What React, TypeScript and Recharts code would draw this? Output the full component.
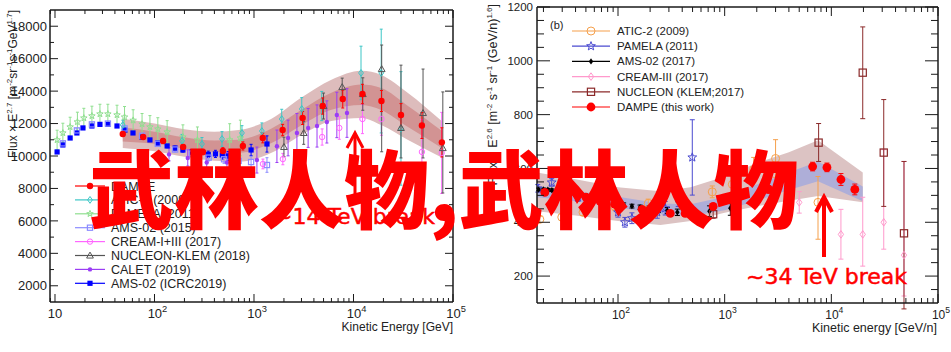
import React from "react";
import { ComposedChart, Scatter, Area, XAxis, YAxis, ErrorBar } from "recharts";

// ---------------- left panel: flux x E^2.7 ----------------
const bandAE = [48, 100, 200, 400, 700, 1500, 3000, 6000, 12000, 19000, 35000, 77000];
const bandAOuterHi = [12300, 12000, 11650, 11500, 11600, 12300, 13600, 14700, 15250, 15000, 13900, 12150];
const bandAInnerHi = [11750, 11500, 11150, 10950, 11000, 11700, 12850, 13900, 14400, 14190, 13100, 11550];
const bandAInnerLo = [10900, 10750, 10450, 10250, 10200, 10800, 11900, 12850, 13150, 12840, 11800, 10500];
const bandAOuterLo = [10500, 10300, 9950, 9700, 9650, 10200, 11300, 12150, 12350, 11910, 11000, 9900];

const icrcE = [10.5, 12, 14.2, 16.6, 19.1, 23.5, 28.3, 34.1, 42, 50.5, 60.8, 74.8, 90, 108, 134, 161, 193, 238, 347, 410, 480, 550, 935, 1350];
const icrcFlux = [10250, 10680, 11110, 11420, 11730, 11850, 11950, 11950, 11850, 11600, 11420, 11170, 10990, 10800, 10620, 10490, 10370, 10250, 10100, 10130, 10060, 10000, 10370, 10740];
const icrcErr = [80, 80, 80, 80, 80, 80, 80, 80, 80, 80, 90, 90, 100, 100, 110, 120, 130, 150, 200, 220, 250, 280, 350, 500];

const ams15E = [12, 16.6, 23.5, 34, 50, 75, 108, 161, 238, 350, 500, 700, 935, 1350];
const ams15Flux = [10780, 11580, 11950, 12000, 11700, 11250, 10750, 10400, 10150, 9900, 9800, 9700, 9630, 9445];
const ams15Err = [100, 100, 100, 100, 100, 100, 120, 140, 160, 200, 250, 300, 350, 450];

const pamelaAE = [10.5, 12, 14.2, 16.8, 19.5, 23.5, 28.3, 34, 42, 50, 61, 75, 90, 108, 134, 193, 270, 570, 730];
const pamelaAFlux = [10990, 11420, 11790, 12100, 12340, 12470, 12590, 12590, 12530, 12400, 12200, 11970, 11790, 11660, 11480, 11170, 10990, 10990, 11110];
const pamelaAErr = [600, 600, 600, 600, 600, 600, 600, 600, 600, 650, 650, 650, 700, 700, 700, 750, 800, 1000, 1100];

const aticAE = [48, 189, 300, 477, 757, 1200, 1900, 3020, 4800, 11900, 19000, 30000];
const aticAFlux = [11910, 10930, 10740, 11050, 11420, 11540, 12280, 12900, 13080, 15120, 15120, 11700];
const aticAErr: (number | number[])[] = [300, 400, 400, 450, 450, 500, 600, 700, 900, [1650, 1650], [3700, 2700], [3500, 3500]];

const caletE = [140, 216, 335, 535, 1070, 1700, 2200, 2700, 3500, 4300, 5400, 6800, 8600];
const caletFlux = [10100, 9880, 9600, 9600, 9750, 10600, 11110, 11420, 11730, 11850, 12100, 12530, 12650];
const caletErr = [400, 500, 500, 600, 800, 1000, 1100, 1200, 1200, 1300, 1300, 1400, 1500];

const creamAE = [1230, 1950, 4840, 7200, 12300, 19100, 48700, 77000];
const creamAFlux = [9510, 9810, 11170, 11730, 12280, 12280, 10250, 10190];
const creamAErr = [300, 350, 500, 700, 900, 1000, 2000, 2500];

const nucAE = [2000, 3160, 5000, 7700, 12400, 19200, 30000, 50000, 79000];
const nucAFlux = [10560, 11420, 13080, 14250, 13820, 15360, 11730, 12650, 10490];
const nucAErr: (number | number[])[] = [600, 700, 800, [680, 550], 1000, [5100, 1480], [1850, 3870], [2770, 2710], [2770, 3460]];

const dampeAE = [48, 77, 122, 194, 307, 487, 773, 1225, 1940, 3080, 4900, 7800, 12300, 19100, 30000, 48700, 77300];
const dampeAFlux = [11360, 11170, 10930, 10560, 10250, 10310, 10620, 11110, 11600, 12340, 13080, 13510, 13820, 13390, 12530, 11880, 10840];
const dampeAErr = [150, 150, 150, 150, 170, 200, 250, 300, 350, 400, 500, 550, 600, 650, 700, 800, 900];

const legendA = ["DAMPE", "ATIC-2 (2009)", "PAMELA (2011)", "AMS-02 (2015)", "CREAM-I+III (2017)", "NUCLEON-KLEM (2018)", "CALET (2019)", "AMS-02 (ICRC2019)"];

const xMajorA = [10, 100, 1000, 10000, 100000];
const yMajorA = [2000, 4000, 6000, 8000, 10000, 12000, 14000, 16000, 18000];
const yMinorA = [3000, 5000, 7000, 9000, 11000, 13000, 15000, 17000];

// ---------------- right panel: flux x E^2.6 ----------------
const bandBE = [17.4, 40, 100, 250, 480, 1000, 2000, 4000, 7500, 19700];
const bandBOuterHi = [585, 560, 530, 515, 530, 570, 620, 660, 705, 585];
const bandBOuterLo = [441, 425, 405, 390, 405, 435, 460, 480, 498, 474];
const bandBInnerHi = [533, 515, 495, 470, 467, 495, 540, 585, 626, 533];
const bandBInnerLo = [493, 478, 455, 430, 422, 445, 480, 520, 552, 478];

const aticBE = [18.5, 29.7, 47, 93, 192, 765, 1180, 1870, 3000, 7500];
const aticBFlux = [411, 419, 437, 459, 470, 513, 541, 596, 637, 474];
const aticBErr: (number | number[])[] = [12, 12, 12, 14, 16, 22, 28, 45, 70, [137, 96]];

const pamelaBE = [17.7, 23.9, 31, 42, 100, 116, 135, 180, 233, 277, 367, 497];
const pamelaBFlux = [526, 548, 511, 493, 437, 400, 415, 433, 437, 452, 489, 641];
const pamelaBErr = [14, 14, 14, 15, 18, 18, 20, 20, 22, 25, 30, 140];

const amsBE = [18, 20, 22, 24, 27, 30, 34, 39, 45, 52, 60, 68, 80, 95, 113, 135, 161, 195, 240, 290, 360, 505, 720, 1130];
const amsBFlux = [522, 522, 521, 519, 517, 514, 511, 507, 502, 497, 491, 485, 478, 471, 465, 460, 456, 451, 447, 444, 437, 437, 441, 452];
const amsBErr = [5, 5, 5, 5, 5, 5, 5, 5, 5, 5, 5, 6, 6, 6, 7, 7, 8, 9, 10, 11, 12, 15, 20, 26];

const creamBE = [5000, 12300, 19700, 31000, 48000];
const creamBFlux = [474, 355, 355, 400, 278];
const creamBErr: (number | number[])[] = [40, [92, 93], [118, 138], [100, 270], [152, 348]];

const nucBE = [780, 7600, 19700, 31000, 48000];
const nucBFlux = [430, 696, 956, 659, 359];
const nucBErr: (number | number[])[] = [15, [70, 71], [171, 170], [200, 197], [281, 267]];

const dampeBE = [20.6, 50, 68, 93, 168, 309, 426, 780, 2590, 6680, 9100, 12300, 16600];
const dampeBFlux = [511, 493, 478, 467, 448, 433, 433, 459, 522, 607, 604, 559, 522];
const dampeBErr = [6, 6, 6, 6, 7, 8, 8, 10, 14, 16, 16, 22, 20];

const legendB = ["ATIC-2 (2009)", "PAMELA (2011)", "AMS-02 (2017)", "CREAM-III (2017)", "NUCLEON (KLEM;2017)", "DAMPE (this work)"];

const xMajorB = [100, 1000, 10000, 100000];
const yMajorB = [200, 400, 600, 800, 1000, 1200];

// ---------------- helpers ----------------
const AX = "#1a1a1a";
const FONT = "'Liberation Sans', Arial, sans-serif";
const NARROW = "'Liberation Sans Narrow', 'Liberation Sans', Arial, sans-serif";

type Kind = "dot" | "ring" | "diamond" | "openDiamond" | "star" | "square" | "openSquare" | "triangle";

function starPoints(cx: number, cy: number, r: number) {
  const pts: string[] = [];
  for (let i = 0; i < 10; i++) {
    const rr = i % 2 === 0 ? r : r * 0.42;
    const a = -Math.PI / 2 + (i * Math.PI) / 5;
    pts.push(`${cx + rr * Math.cos(a)},${cy + rr * Math.sin(a)}`);
  }
  return pts.join(" ");
}

function Mark({ cx, cy, kind, color, s }: { cx: number; cy: number; kind: Kind; color: string; s: number }) {
  if (cx == null || cy == null || isNaN(cx) || isNaN(cy)) return <g />;
  switch (kind) {
    case "dot":
      return <circle cx={cx} cy={cy} r={s} fill={color} />;
    case "ring":
      return <circle cx={cx} cy={cy} r={s} fill="none" stroke={color} strokeWidth={1} />;
    case "diamond":
      return <polygon points={`${cx},${cy - s} ${cx + s * 0.7},${cy} ${cx},${cy + s} ${cx - s * 0.7},${cy}`} fill={color} />;
    case "openDiamond":
      return <polygon points={`${cx},${cy - s} ${cx + s * 0.7},${cy} ${cx},${cy + s} ${cx - s * 0.7},${cy}`} fill="none" stroke={color} strokeWidth={1} />;
    case "star":
      return <polygon points={starPoints(cx, cy, s)} fill="none" stroke={color} strokeWidth={1} />;
    case "square":
      return <rect x={cx - s} y={cy - s} width={2 * s} height={2 * s} fill={color} />;
    case "openSquare":
      return <rect x={cx - s} y={cy - s} width={2 * s} height={2 * s} fill="none" stroke={color} strokeWidth={1.2} />;
    case "triangle":
      return <polygon points={`${cx},${cy - s} ${cx + s},${cy + s * 0.75} ${cx - s},${cy + s * 0.75}`} fill="none" stroke={color} strokeWidth={1} />;
  }
  return <g />;
}

type Series = { name: string; E: number[]; F: number[]; err: (number | number[])[]; color: string; kind: Kind; s: number; cap: number };

const rows = (sr: Series) => sr.E.map((x, i) => ({ x, y: sr.F[i], err: sr.err[i] }));

const seriesA: Series[] = [
  { name: legendA[7], E: icrcE, F: icrcFlux, err: icrcErr, color: "#0000ff", kind: "square", s: 2.6, cap: 1.5 },
  { name: legendA[3], E: ams15E, F: ams15Flux, err: ams15Err, color: "#8c8cff", kind: "openSquare", s: 2.6, cap: 1.5 },
  { name: legendA[2], E: pamelaAE, F: pamelaAFlux, err: pamelaAErr, color: "#8fdf8f", kind: "star", s: 3.4, cap: 1.5 },
  { name: legendA[1], E: aticAE, F: aticAFlux, err: aticAErr, color: "#3cc6c6", kind: "openDiamond", s: 3.4, cap: 1.5 },
  { name: legendA[6], E: caletE, F: caletFlux, err: caletErr, color: "#9a3cf5", kind: "dot", s: 2.2, cap: 1.5 },
  { name: legendA[4], E: creamAE, F: creamAFlux, err: creamAErr, color: "#ff66ff", kind: "ring", s: 2.7, cap: 1.5 },
  { name: legendA[5], E: nucAE, F: nucAFlux, err: nucAErr, color: "#555555", kind: "triangle", s: 3.4, cap: 1.5 },
  { name: legendA[0], E: dampeAE, F: dampeAFlux, err: dampeAErr, color: "#ff0000", kind: "dot", s: 3.2, cap: 1.5 },
];
const legendOrderA = [7, 3, 2, 1, 5, 6, 4, 0];

const seriesB: Series[] = [
  { name: legendB[0], E: aticBE, F: aticBFlux, err: aticBErr, color: "#f5a04c", kind: "ring", s: 4, cap: 2.5 },
  { name: legendB[1], E: pamelaBE, F: pamelaBFlux, err: pamelaBErr, color: "#4b4bd0", kind: "star", s: 4.6, cap: 2.5 },
  { name: legendB[2], E: amsBE, F: amsBFlux, err: amsBErr, color: "#000000", kind: "diamond", s: 3.2, cap: 2.5 },
  { name: legendB[3], E: creamBE, F: creamBFlux, err: creamBErr, color: "#ff99cc", kind: "openDiamond", s: 3.8, cap: 2.5 },
  { name: legendB[4], E: nucBE, F: nucBFlux, err: nucBErr, color: "#8b2a2a", kind: "openSquare", s: 3.6, cap: 2.5 },
  { name: legendB[5], E: dampeBE, F: dampeBFlux, err: dampeBErr, color: "#ff0000", kind: "dot", s: 4.4, cap: 2.5 },
];

const bandARows = bandAE.map((x, i) => ({ x, outer: [bandAOuterLo[i], bandAOuterHi[i]], inner: [bandAInnerLo[i], bandAInnerHi[i]] }));
const bandBRows = bandBE.map((x, i) => ({ x, outer: [bandBOuterLo[i], bandBOuterHi[i]], inner: [bandBInnerLo[i], bandBInnerHi[i]] }));

function logTicks(majors: number[], lo: number) {
  const out: number[] = [];
  const top = majors[majors.length - 1];
  majors.forEach((m) => {
    out.push(m);
    for (let k = 2; k <= 9; k++) {
      if (m * k < top) out.push(m * k);
      if ((m / 10) * k > lo) out.push((m / 10) * k);
    }
  });
  return Array.from(new Set(out.map((v) => Math.round(v * 1000) / 1000))).filter((v) => v > lo && v <= top).sort((a, b) => a - b);
}

const xTick = (side: "bottom" | "top", major: number, minor: number, labels: boolean, font: number) => (p: any) => {
  const v = Number(p.payload.value);
  const lg = Math.log10(v);
  const isMajor = Math.abs(lg - Math.round(lg)) < 1e-6;
  const len = isMajor ? major : minor;
  const dir = side === "bottom" ? -1 : 1;
  const e = Math.round(lg);
  return (
    <g>
      <line x1={p.x} x2={p.x} y1={p.y} y2={p.y + dir * len} stroke={AX} strokeWidth={1} />
      {labels && isMajor && (
        <text x={p.x + (e > 1 ? 3 : 0)} y={p.y + 16} textAnchor="middle" fontSize={font} fill="#222" fontFamily={FONT}>
          10
          {e > 1 && (
            <tspan dy={-6} fontSize={font * 0.72}>
              {e}
            </tspan>
          )}
        </text>
      )}
    </g>
  );
};

const yTick = (side: "left" | "right", majors: number[], major: number, minor: number, labels: boolean, font: number, dx: number, family: string) => (p: any) => {
  const v = Number(p.payload.value);
  const isMajor = majors.includes(v);
  const len = isMajor ? major : minor;
  const dir = side === "left" ? 1 : -1;
  return (
    <g>
      <line x1={p.x} x2={p.x + dir * len} y1={p.y} y2={p.y} stroke={AX} strokeWidth={1} />
      {labels && isMajor && (
        <text x={p.x - dx} y={p.y + font * 0.36} textAnchor="end" fontSize={font} fill="#222" fontFamily={family}>
          {v}
        </text>
      )}
    </g>
  );
};

const axisCommon = { tickSize: 0, tickMargin: 0, tickLine: false, interval: 0 as const, axisLine: { stroke: AX, strokeWidth: 1.5 }, allowDataOverflow: true };

// axis boxes: bottom 30, top 4, left 40, right 4 (margins below are the rest)
function Panel(props: {
  left: number; width: number; margin: any; xDomain: number[]; yDomain: number[]; xTicks: number[]; yTicks: number[]; yMajors: number[];
  bandRows: any[]; outerFill: string; innerFill: string; curve: "monotone" | "linear"; series: Series[];
  xMaj: number; xMin: number; yMaj: number; yMin: number; xFont: number; yFont: number; yDx: number; yFamily: string;
}) {
  return (
    <div style={{ position: "absolute", left: props.left, top: 0 }}>
      <ComposedChart width={props.width} height={352} data={props.bandRows} margin={props.margin}>
        <XAxis dataKey="x" type="number" scale="log" domain={props.xDomain} ticks={props.xTicks} height={30}
          tick={xTick("bottom", props.xMaj, props.xMin, true, props.xFont)} {...axisCommon} />
        <XAxis xAxisId="top" orientation="top" dataKey="x" type="number" scale="log" domain={props.xDomain} ticks={props.xTicks} height={4}
          tick={xTick("top", props.xMaj, props.xMin, false, props.xFont)} {...axisCommon} />
        <YAxis dataKey="y" type="number" domain={props.yDomain} ticks={props.yTicks} width={40}
          tick={yTick("left", props.yMajors, props.yMaj, props.yMin, true, props.yFont, props.yDx, props.yFamily)} {...axisCommon} />
        <YAxis yAxisId="right" orientation="right" type="number" domain={props.yDomain} ticks={props.yTicks} width={4}
          tick={yTick("right", props.yMajors, props.yMaj, props.yMin, false, props.yFont, props.yDx, props.yFamily)} {...axisCommon} />
        <Area dataKey="outer" type={props.curve} fill={props.outerFill} fillOpacity={1} stroke="none" isAnimationActive={false} />
        <Area dataKey="inner" type={props.curve} fill={props.innerFill} fillOpacity={1} stroke="none" isAnimationActive={false} />
        {props.series.map((sr) => (
          <Scatter key={sr.name} name={sr.name} data={rows(sr)} fill={sr.color} isAnimationActive={false}
            shape={(p: any) => <Mark cx={p.cx} cy={p.cy} kind={sr.kind} color={sr.color} s={sr.s} />}>
            <ErrorBar dataKey="err" direction="y" width={sr.cap} stroke={sr.color} strokeWidth={1} />
          </Scatter>
        ))}
      </ComposedChart>
    </div>
  );
}

export default function App() {
  const yTicksA = [...yMajorA, ...yMinorA].sort((a, b) => a - b);
  const yTicksB: number[] = [];
  for (let v = 150; v < 1200; v += 50) yTicksB.push(v);
  yTicksB.push(1200);

  return (
    <div style={{ position: "absolute", left: 0, top: 0, width: 951, height: 352, background: "#fff", overflow: "hidden", fontFamily: FONT }}>
      <Panel left={0} width={470} margin={{ top: 6, right: 13, bottom: 20, left: 10 }} xDomain={[8.91, 100000]} yDomain={[1000, 19000]}
        xTicks={logTicks(xMajorA, 8.91)} yTicks={yTicksA} yMajors={yMajorA} bandRows={bandARows} outerFill="#ddbcbc" innerFill="#d29393"
        curve="monotone" series={seriesA} xMaj={8} xMin={4} yMaj={8} yMin={4} xFont={13} yFont={13} yDx={3} yFamily={NARROW} />
      <Panel left={475} width={476} margin={{ top: 3, right: 9, bottom: 19, left: 22 }} xDomain={[17.4, 100000]} yDomain={[100, 1200]}
        xTicks={logTicks(xMajorB, 17.4)} yTicks={yTicksB} yMajors={yMajorB} bandRows={bandBRows} outerFill="#dcc3c3" innerFill="#aeaed8"
        curve="linear" series={seriesB} xMaj={9} xMin={5} yMaj={13} yMin={7} xFont={12} yFont={11.5} yDx={4} yFamily={FONT} />

      <svg width={951} height={352} style={{ position: "absolute", left: 0, top: 0, pointerEvents: "none" }} fontFamily={FONT}>
        {/* axis titles */}
        <text x={453} y={331} textAnchor="end" fontSize={12} fill="#222">Kinetic Energy [GeV]</text>
        <text x={937} y={332} textAnchor="end" fontSize={12.5} fill="#222">Kinetic energy [GeV/n]</text>
        <text transform="translate(17,10) rotate(-90)" textAnchor="end" fontSize={12} fill="#222">
          Flux × E<tspan dy={-5} fontSize={8}>2.7</tspan>
          <tspan dy={5}> [m</tspan><tspan dy={-5} fontSize={8}>-2</tspan>
          <tspan dy={5}>sr</tspan><tspan dy={-5} fontSize={8}>-1</tspan>
          <tspan dy={5}>s</tspan><tspan dy={-5} fontSize={8}>-1</tspan>
          <tspan dy={5}>GeV</tspan><tspan dy={-5} fontSize={8}>1.7</tspan>
          <tspan dy={5}>]</tspan>
        </text>
        <text transform="translate(497,4) rotate(-90)" textAnchor="end" fontSize={12.5} fill="#222">
          Flux × E<tspan dy={-5} fontSize={8}>2.6</tspan>
          <tspan dy={5}> [m</tspan><tspan dy={-5} fontSize={8}>-2</tspan>
          <tspan dy={5}> s</tspan><tspan dy={-5} fontSize={8}>-1</tspan>
          <tspan dy={5}> sr</tspan><tspan dy={-5} fontSize={8}>-1</tspan>
          <tspan dy={5}> (GeV/n)</tspan><tspan dy={-5} fontSize={8}>1.6</tspan>
          <tspan dy={5}>]</tspan>
        </text>

        {/* legends */}
        {legendOrderA.map((si, i) => {
          const sr = seriesA[si];
          const y = 186 + i * 13.9;
          return (
            <g key={sr.name}>
              <line x1={75} x2={105} y1={y} y2={y} stroke={sr.color} strokeWidth={1.2} />
              <Mark cx={90} cy={y} kind={sr.kind} color={sr.color} s={sr.s} />
              <text x={111} y={y + 4.5} fontSize={12.5} fill="#222">{sr.name}</text>
            </g>
          );
        })}
        <text x={550} y={29} fontSize={11} fill="#222">(b)</text>
        {seriesB.map((sr, i) => {
          const y = 31 + i * 15.2;
          return (
            <g key={sr.name}>
              <line x1={572} x2={610} y1={y} y2={y} stroke={sr.color} strokeWidth={1.2} />
              <Mark cx={591} cy={y} kind={sr.kind} color={sr.color} s={sr.s} />
              <text x={617} y={y + 4} fontSize={11.5} fill="#222">{sr.name}</text>
            </g>
          );
        })}

        {/* annotations */}
        <g stroke="#ff0000" fill="none" strokeLinecap="butt">
          <line x1={355} x2={355} y1={135} y2={200} strokeWidth={3} />
          <polyline points="347,148 355,133 363,148" strokeWidth={3} />
          <line x1={824} x2={824} y1={199} y2={257} strokeWidth={4} />
          <polyline points="816,212 824,197 832,212" strokeWidth={4} />
        </g>
        <text x={89} y={222} fontSize={85} fontWeight={900} fill="#ff0000" fontFamily="'Noto Sans CJK SC', sans-serif">武林人物,武林人物</text>
        <text x={274} y={224} fontSize={22} fill="#ff0000" stroke="#ff0000" strokeWidth={0.5} fontFamily="'DejaVu Sans', sans-serif">~14 TeV break</text>
        <text x={746} y={284} fontSize={22} fill="#ff0000" stroke="#ff0000" strokeWidth={0.5} fontFamily="'DejaVu Sans', sans-serif">~34 TeV break</text>
      </svg>
    </div>
  );
}
